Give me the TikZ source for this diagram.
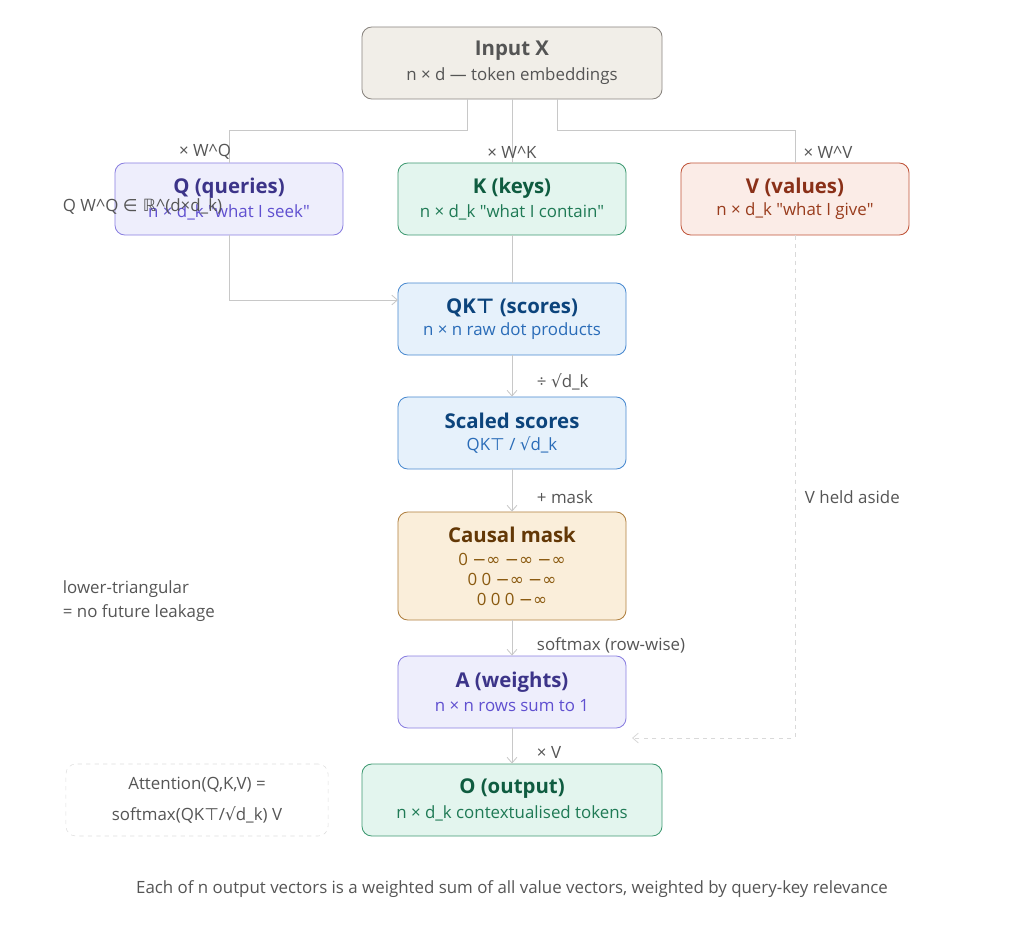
\documentclass[tikz,border=0pt]{standalone}
\usepackage{fontspec}
\setmainfont{Open Sans}
\newfontfamily\symf{DejaVu Sans}
\newfontfamily\qf{Open Sans}[Ligatures=TeXOff]
\usetikzlibrary{arrows.meta,positioning}
\definecolor{grayln}{HTML}{C8C8C8}
\definecolor{graytx}{HTML}{555555}
\definecolor{infill}{HTML}{F1EEE8}\definecolor{indraw}{HTML}{8A8580}
\definecolor{qfill}{HTML}{EEEEFC}\definecolor{qdraw}{HTML}{8A7FE0}\definecolor{qtit}{HTML}{3C3489}\definecolor{qsub}{HTML}{6050D0}
\definecolor{kfill}{HTML}{E3F5EE}\definecolor{kdraw}{HTML}{3F9A72}\definecolor{ktit}{HTML}{0F5C40}\definecolor{ksub}{HTML}{1F7A55}
\definecolor{vfill}{HTML}{FBECE7}\definecolor{vdraw}{HTML}{C0553A}\definecolor{vtit}{HTML}{8A3018}\definecolor{vsub}{HTML}{993C1D}
\definecolor{sfill}{HTML}{E6F1FB}\definecolor{sdraw}{HTML}{4A8AD0}\definecolor{stit}{HTML}{0C447C}\definecolor{ssub}{HTML}{2A6CB8}
\definecolor{mfill}{HTML}{FAEEDA}\definecolor{mdraw}{HTML}{B08040}\definecolor{mtit}{HTML}{633806}\definecolor{msub}{HTML}{8A5A10}
\newcommand{\sq}{{\symf √}}
\newcommand{\tp}{{\symf ⊤}}
\newcommand{\inff}{{\symf −∞}}
\newcommand{\qt}{{\qf"}}
\tikzset{
  box/.style={draw, rounded corners=7pt, minimum height=1.8cm, align=center, line width=0.6pt},
  wbox/.style={box, minimum width=7.5cm},
  nbox/.style={box, minimum width=5.7cm},
  lbl/.style={text=graytx, font=\fontsize{12}{14}\selectfont},
  link/.style={draw=grayln, line width=0.6pt},
  arr/.style={link, -{Straight Barb[length=4pt,width=7pt]}},
}
\newcommand{\tit}[1]{{\fontsize{14.5}{17}\selectfont\bfseries #1}}
\newcommand{\sub}[1]{{\fontsize{12}{14}\selectfont #1}}
\begin{document}
\begin{tikzpicture}[x=0.025cm, y=-0.025cm]
\useasboundingbox (0,0) rectangle (1024,934);
% boxes
\node[wbox, fill=infill, draw=indraw] (input) at (512,63) {\color{graytx}\tit{Input X}\\[4pt]\color{graytx}\sub{n × d — token embeddings}};
\node[nbox, fill=qfill, draw=qdraw] (q) at (229,199) {\color{qtit}\tit{Q (queries)}\\[4pt]\color{qsub}\sub{n × d\_k \qt what I seek\qt}};
\node[nbox, fill=kfill, draw=kdraw] (k) at (512,199) {\color{ktit}\tit{K (keys)}\\[4pt]\color{ksub}\sub{n × d\_k \qt what I contain\qt}};
\node[nbox, fill=vfill, draw=vdraw] (v) at (795,199) {\color{vtit}\tit{V (values)}\\[4pt]\color{vsub}\sub{n × d\_k \qt what I give\qt}};
\node[nbox, fill=sfill, draw=sdraw] (scores) at (512,319) {\color{stit}\tit{QK\tp{} (scores)}\\[4pt]\color{ssub}\sub{n × n raw dot products}};
\node[nbox, fill=sfill, draw=sdraw] (scaled) at (512,433) {\color{stit}\tit{Scaled scores}\\[4pt]\color{ssub}\sub{QK\tp{} / \sq d\_k}};
\node[nbox, fill=mfill, draw=mdraw, minimum height=2.7cm] (mask) at (512,566) {\color{mtit}\tit{Causal mask}\\[5pt]\color{msub}\sub{0 \inff{} \inff{} \inff}\\[2pt]\color{msub}\sub{0 0 \inff{} \inff}\\[2pt]\color{msub}\sub{0 0 0 \inff}};
\node[nbox, fill=qfill, draw=qdraw] (a) at (512,692) {\color{qtit}\tit{A (weights)}\\[4pt]\color{qsub}\sub{n × n rows sum to 1}};
\node[wbox, fill=kfill, draw=kdraw] (o) at (512,800) {\color{ktit}\tit{O (output)}\\[4pt]\color{ksub}\sub{n × d\_k contextualised tokens}};
\node[draw=grayln!60, dashed, rounded corners=7pt, minimum width=6.55cm, minimum height=1.8cm, align=center, lbl] (formula) at (197,800) {Attention(Q,K,V) =\\[8pt]softmax(QK\tp{}/\sq d\_k) V};
% connectors
\coordinate (ql) at (467,130);
\coordinate (vr) at (557,130);
\coordinate (qs) at (398,300);
\coordinate (vd) at (795,738);
\draw[link] (input.south -| ql) -- (ql) -| (q.north);
\draw[link] (input) -- (k);
\draw[link] (input.south -| vr) -- (vr) -| (v.north);
\draw[arr] (q.south) |- (qs);
\draw[link] (k) -- (scores);
\draw[arr] (scores) -- (scaled);
\draw[arr] (scaled) -- (mask);
\draw[arr] (mask) -- (a);
\draw[arr] (a) -- (o);
\draw[arr, dashed, draw=grayln!70] (v.south) -- (vd) -- ([xshift=4pt]vd -| a.east);
% labels
\node[lbl] at (205,152) {× W\^{}Q};
\node[lbl] at (512,152) {× W\^{}K};
\node[lbl] at (828,152) {× W\^{}V};
\node[lbl, anchor=west] at (58,207) {Q W\^{}Q {\symf ∈ ℝ}\^{}(d×d\_k)};
\node[lbl, anchor=west] at (532,382) {÷ \sq d\_k};
\node[lbl, anchor=west] at (532,497) {+ mask};
\node[lbl, anchor=west] at (532,645) {softmax (row-wise)};
\node[lbl, anchor=west] at (532,752) {× V};
\node[lbl, anchor=west] at (800,497) {V held aside};
\node[lbl, anchor=west, align=left] at (58,601) {lower-triangular\\[3pt]= no future leakage};
\node[lbl] at (512,889) {Each of n output vectors is a weighted sum of all value vectors, weighted by query-key relevance};
\end{tikzpicture}
\end{document}
